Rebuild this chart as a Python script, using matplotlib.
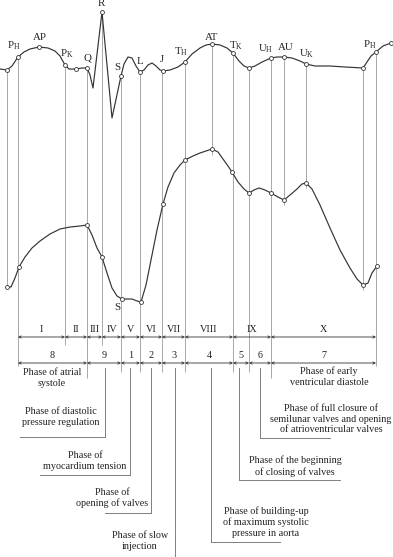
import matplotlib
matplotlib.use("Agg")
from matplotlib import pyplot as plt

plt.rcParams['font.family'] = ['Liberation Serif', 'DejaVu Serif']

# --- upper curve (ECG), pixel coords
ecg_x = [0, 7, 12, 18, 24, 30, 39, 48, 55, 60, 65, 69, 76, 82, 87, 90, 93, 102, 112, 121, 124, 128,
         132, 136, 140, 144, 148, 152, 156, 160, 163, 170, 178, 185, 192, 200, 206, 212, 220, 227,
         233, 239, 244, 249, 255, 262, 271, 277, 284, 292, 300, 306, 315, 330, 345, 363, 367, 371,
         376, 383, 391]
ecg_y = [69, 70, 66, 57, 52, 49, 47, 48, 51, 56, 65, 69, 69, 68, 68, 75, 88, 12, 118, 76, 64, 57,
         58, 66, 72, 70, 65, 63, 66, 70, 71, 70, 67, 62, 54, 48, 45, 44, 45, 48,
         53, 61, 66, 68, 66, 62, 58, 57, 57, 58, 61, 64, 66, 66, 67, 68, 62, 56,
         52, 46, 43]
ecg_marks = [7, 18, 39, 65, 76, 87, 102, 121, 140, 163, 185, 212, 233, 249, 271, 284, 306, 363, 376, 391]

# --- lower curve (pressure)
prs_x = [7, 11, 15, 19, 25, 32, 40, 50, 60, 70, 80, 87, 92, 97, 102, 107, 112, 117, 122, 127, 132,
         137, 141, 146, 151, 157, 163, 168, 174, 180, 185, 193, 200, 206, 212, 218, 223, 228, 232,
         238, 244, 249, 254, 259, 265, 271, 278, 284, 290, 297, 302, 306, 312, 320, 330, 340, 350,
         357, 363, 368, 372, 377]
prs_y = [287, 287, 278, 267, 257, 248, 241, 234, 229, 227, 226, 225, 235, 248, 257, 273, 288, 296,
         299, 299, 299, 301, 302, 285, 260, 230, 204, 187, 173, 165, 160, 156, 153, 151, 149, 152,
         159, 166, 172, 182, 189, 193, 190, 188, 190, 193, 197, 200, 195, 189, 184, 183, 189, 205,
         228, 250, 268, 279, 285, 283, 273, 266]
prs_marks = [7, 19, 87, 102, 122, 141, 163, 185, 212, 232, 249, 271, 284, 306, 363, 377]

# point labels on the upper curve
pt_labels = ['P$_\\mathregular{H}$', 'AP', 'P$_\\mathregular{K}$', 'Q', 'R', 'S', 'L', 'J',
             'T$_\\mathregular{H}$', 'AT', 'T$_\\mathregular{K}$', 'U$_\\mathregular{H}$', 'AU',
             'U$_\\mathregular{K}$', 'P$_\\mathregular{H}$']
pt_lab_x = [14, 40, 67, 88, 101, 117, 140, 162, 181, 212, 236, 266, 286, 307, 370]
pt_lab_y = [46, 38, 54, 58, 4, 67, 62, 60, 52, 37, 46, 49, 47, 54, 45]

# vertical guide lines: x, top, bottom
vl_x = [7, 18, 65, 87, 102, 121, 140, 162, 185, 212, 233, 249, 271, 284, 306, 363, 376]
vl_top = [70, 57, 65, 68, 12, 76, 72, 71, 62, 44, 53, 68, 58, 57, 64, 68, 52]
vl_bot = [287, 366, 345, 378, 345, 372, 372, 372, 372, 155, 372, 372, 378, 205, 188, 290, 366]

# interval bands
roman = ['I', 'II', 'III', 'IV', 'V', 'VI', 'VII', 'VIII', 'IX', 'X']
roman_edges = [18, 65, 87, 102, 121, 140, 162, 185, 233, 271, 376]
arabic = ['8', '9', '1', '2', '3', '4', '5', '6', '7']
arabic_edges = [18, 87, 121, 140, 162, 185, 233, 249, 271, 376]

# phase captions
phases = ['Phase of atrial\nsystole',
          'Phase of diastolic\npressure regulation',
          'Phase of\nmyocardium tension',
          'Phase of\nopening of valves',
          'Phase of slow\ninjection',
          'Phase of building-up\nof maximum systolic\npressure in aorta',
          'Phase of the beginning\nof closing of valves',
          'Phase of full closure of\nsemilunar valves and opening\nof atrioventricular valves',
          'Phase of early\nventricular diastole']
ph_x = [52, 61, 85, 112, 140, 266, 295, 331, 329]
ph_y = [378, 417, 461, 498, 541, 522, 466, 419, 377]
# leader: vertical x, underline y, underline from..to
ld_x = [None, 105, 130, 151, 175, 211, 239, 260, None]
ld_y = [None, 437, 475, 513, 560, 542, 480, 438, None]
ld_x0 = [None, 20, 40, 105, 175, 211, 239, 260, None]
ld_x1 = [None, 105, 130, 151, 175, 280, 340, 330, None]

fig = plt.figure(figsize=(3.93, 5.57), dpi=100)
ax = fig.add_axes([0, 0, 1, 1])
ax.set_xlim(0, 393)
ax.set_ylim(557, 0)
ax.axis('off')

ax.vlines(vl_x, vl_top, vl_bot, colors='#a8a8a8', lw=0.7)

ax.plot(ecg_x, ecg_y, color='#333333', lw=0.85)
mx = [ecg_x[ecg_x.index(v)] for v in ecg_marks]
my = [ecg_y[ecg_x.index(v)] for v in ecg_marks]
ax.plot(mx, my, 'o', ms=2.8, mfc='white', mec='#333333', mew=0.6)

ax.plot(prs_x, prs_y, color='#333333', lw=0.85)
mx = [prs_x[prs_x.index(v)] for v in prs_marks]
my = [prs_y[prs_x.index(v)] for v in prs_marks]
ax.plot(mx, my, 'o', ms=2.8, mfc='white', mec='#333333', mew=0.6)

for t, x, y in zip(pt_labels, pt_lab_x, pt_lab_y):
    ax.text(x, y, t, ha='center', va='center', fontsize=7.8, color='#222')
ax.text(117, 308, 'S', ha='center', va='center', fontsize=7.8, color='#222')

def band(edges, names, y, ty):
    for i in range(len(names)):
        ax.annotate('', xy=(edges[i + 1], y), xytext=(edges[i], y),
                    arrowprops=dict(arrowstyle='<->', lw=0.6, color='#333',
                                    mutation_scale=4, shrinkA=0, shrinkB=0))
        ax.text((edges[i] + edges[i + 1]) / 2, ty, names[i], ha='center', va='center',
                fontsize=7.3, color='#222')

band(roman_edges, roman, 337, 330)
band(arabic_edges, arabic, 363, 356)

for i, t in enumerate(phases):
    ax.text(ph_x[i], ph_y[i], t, ha='center', va='center', fontsize=7.3, color='#222',
            linespacing=1.25)
    if ld_x[i] is not None:
        ax.plot([ld_x[i], ld_x[i]], [368, ld_y[i]], color='#808080', lw=0.7)
        ax.plot([ld_x0[i], ld_x1[i]], [ld_y[i], ld_y[i]], color='#808080', lw=0.7)

fig.savefig('out.png', dpi=100)
